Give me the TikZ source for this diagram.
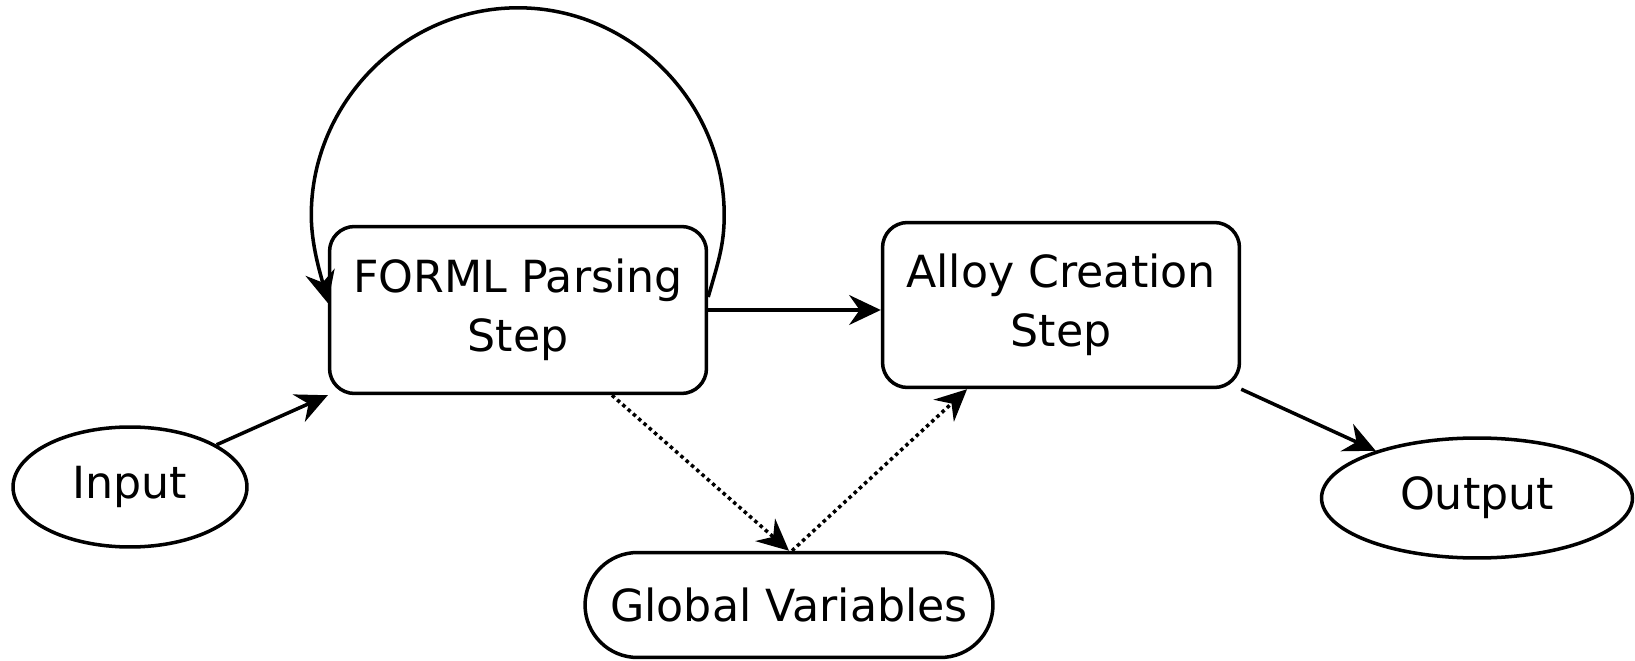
\documentclass[tikz,border=0pt]{standalone}
\usepackage{fontspec}
\setmainfont{DejaVu Sans}
\usetikzlibrary{arrows.meta,positioning,shapes.geometric}
\tikzset{
  >={Stealth[length=18pt,width=17pt,inset=6pt]},
  font=\fontsize{25.2}{33.6}\selectfont,
  stepbox/.style ={draw, line width=2pt, rounded corners=0.5cm, align=center, minimum height=3.34cm},
  io/.style      ={draw, line width=2pt, ellipse, minimum height=2.4cm},
  store/.style   ={draw, line width=2pt, rounded corners=1.05cm, minimum height=2.1cm, minimum width=8.16cm},
  arr/.style     ={->, line width=2pt},
  darr/.style    ={->, line width=2pt, dotted},
}
\begin{document}
\begin{tikzpicture}[x=0.02cm,y=-0.02cm]
  \useasboundingbox (0,0) rectangle (1635,661);
  % nodes
  \node[io, minimum width=4.68cm] (input) at (130,487) {Input};
  \node[stepbox, minimum width=7.54cm] (parse) at (518,310) {FORML Parsing\\Step};
  \node[stepbox, minimum width=7.14cm, minimum height=3.3cm] (alloy) at (1061,305) {Alloy Creation\\Step};
  \node[store] (globals) at (789,605) {Global Variables};
  \node[io, minimum width=6.22cm] (output) at (1477,498) {Output};
  % flow
  \draw[arr] (input.26) -- (parse.south west);
  \draw[arr] (parse.east) -- (parse.east -| alloy.west);
  \draw[arr] (alloy.south east) -- (output.155);
  % self loop
  \draw[arr] ([yshift=0.26cm]parse.east)
    .. controls +(0.2cm,0.7cm) and +(0cm,-0.6cm) .. ([shift={(0.32cm,1.9cm)}]parse.east)
    .. controls +(0cm,2.26cm) and +(2.26cm,0cm) .. ([yshift=4.34cm]parse.north)
    .. controls +(-2.26cm,0cm) and +(0cm,2.26cm) .. ([shift={(-0.33cm,1.9cm)}]parse.west)
    .. controls +(0cm,-0.6cm) and +(-0.15cm,0.6cm) .. ([yshift=0.14cm]parse.west);
  % shared state
  \draw[darr] ([xshift=1.88cm]parse.south) -- (globals.north);
  \draw[darr] ([xshift=0.06cm]globals.north) -- ([xshift=-1.88cm]alloy.south);
\end{tikzpicture}
\end{document}
